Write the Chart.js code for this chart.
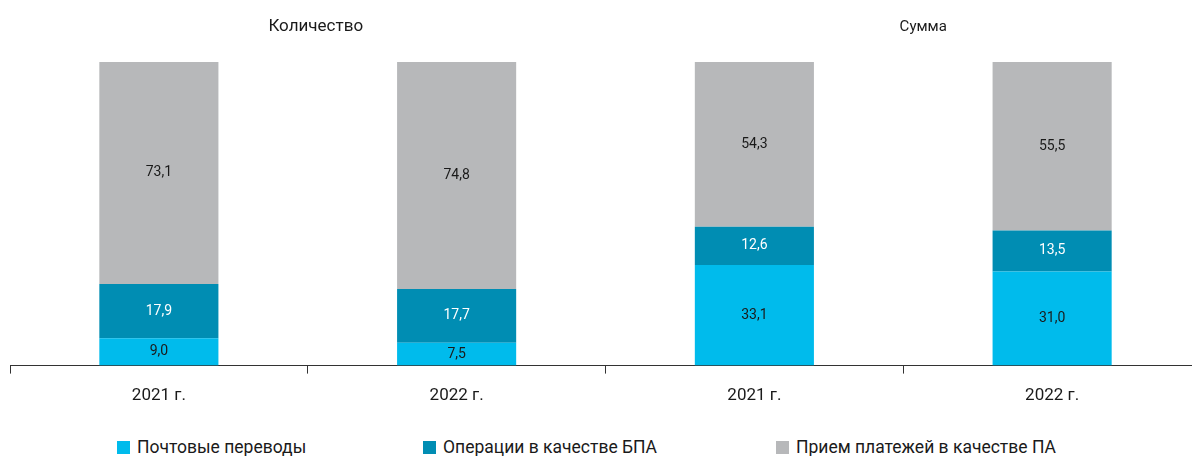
<!DOCTYPE html>
<html>
<head>
<meta charset="utf-8">
<script src="https://cdn.jsdelivr.net/npm/chart.js@4/dist/chart.umd.min.js"></script>
<style>
  html, body { margin: 0; padding: 0; background: #fff; overflow: hidden; }
  #wrap { position: absolute; left: 0; top: 0; width: 1201px; height: 418px; }
  #legend { position: absolute; left: 0; top: 436px; width: 1192px; height: 22px;
    font-family: Roboto, sans-serif; font-size: 17.5px; color: #1a1a1a; }
  #legend span.item { position: absolute; top: 0; white-space: nowrap; line-height: 22px; }
  #legend span.box { display: inline-block; width: 13px; height: 13px; margin-right: 7px; vertical-align: -1px; }
</style>
</head>
<body>
<div id="wrap"><canvas id="chart"></canvas></div>
<div id="legend"></div>
<script>
const labels = ['2021 г.', '2022 г.', '2021 г.', '2022 г.'];
const groupTitles = ['Количество', 'Сумма'];
const seriesNames = ['Почтовые переводы', 'Операции в качестве БПА', 'Прием платежей в качестве ПА'];
const postal = [9.0, 7.5, 33.1, 31.0];
const bpa = [17.9, 17.7, 12.6, 13.5];
const pa = [73.1, 74.8, 54.3, 55.5];
const colors = ['#00bbec', '#008db3', '#b7b8ba'];
const labelColors = ['#1a1a1a', '#ffffff', '#1a1a1a'];
const legendLeft = [117, 423, 776];

const font = 'Roboto, sans-serif';

// values inside the segments
const valueLabels = {
  id: 'valueLabels',
  afterDatasetsDraw(chart) {
    const ctx = chart.ctx;
    ctx.save();
    ctx.font = '14px ' + font;
    ctx.textAlign = 'center';
    ctx.textBaseline = 'middle';
    chart.data.datasets.forEach((ds, i) => {
      chart.getDatasetMeta(i).data.forEach((bar, j) => {
        ctx.fillStyle = labelColors[i];
        ctx.fillText(ds.data[j].toFixed(1).replace('.', ','), bar.x, (bar.y + bar.base) / 2);
      });
    });
    ctx.restore();
  }
};

// "Количество" / "Сумма" above each pair of bars
const groupHeads = {
  id: 'groupHeads',
  afterDraw(chart) {
    const ctx = chart.ctx;
    const x = chart.scales.x;
    ctx.save();
    ctx.fillStyle = '#1a1a1a';
    ctx.textAlign = 'center';
    ctx.textBaseline = 'middle';
    ctx.font = '17px ' + font;
    ctx.fillText(groupTitles[0], (x.getPixelForValue(0) + x.getPixelForValue(1)) / 2 + 8, 27);
    ctx.font = '15px ' + font;
    ctx.fillText(groupTitles[1], (x.getPixelForValue(2) + x.getPixelForValue(3)) / 2 + 20, 27);
    ctx.restore();
  }
};

const datasets = [postal, bpa, pa].map((d, i) => ({
  label: seriesNames[i],
  data: d,
  backgroundColor: colors[i],
  barPercentage: 0.4,
  categoryPercentage: 1
}));

new Chart(document.getElementById('chart'), {
  type: 'bar',
  data: { labels: labels, datasets: datasets },
  options: {
    responsive: true,
    maintainAspectRatio: false,
    animation: false,
    layout: { padding: { left: 10, right: 0, top: 62, bottom: 0 } },
    plugins: {
      legend: { display: false },
      tooltip: { enabled: false }
    },
    scales: {
      x: {
        stacked: true,
        grid: { drawOnChartArea: false, drawTicks: true, tickLength: 8, color: '#333', offset: true },
        border: { display: true, color: '#333', width: 1 },
        ticks: { color: '#1a1a1a', font: { family: font, size: 17 }, padding: 12 }
      },
      y: {
        stacked: true,
        display: false,
        min: 0,
        max: 100
      }
    }
  },
  plugins: [valueLabels, groupHeads]
});

const legend = document.getElementById('legend');
seriesNames.forEach((name, i) => {
  const item = document.createElement('span');
  item.className = 'item';
  item.style.left = legendLeft[i] + 'px';
  item.innerHTML = '<span class="box" style="background:' + colors[i] + '"></span>' + name;
  legend.appendChild(item);
});
</script>
</body>
</html>
